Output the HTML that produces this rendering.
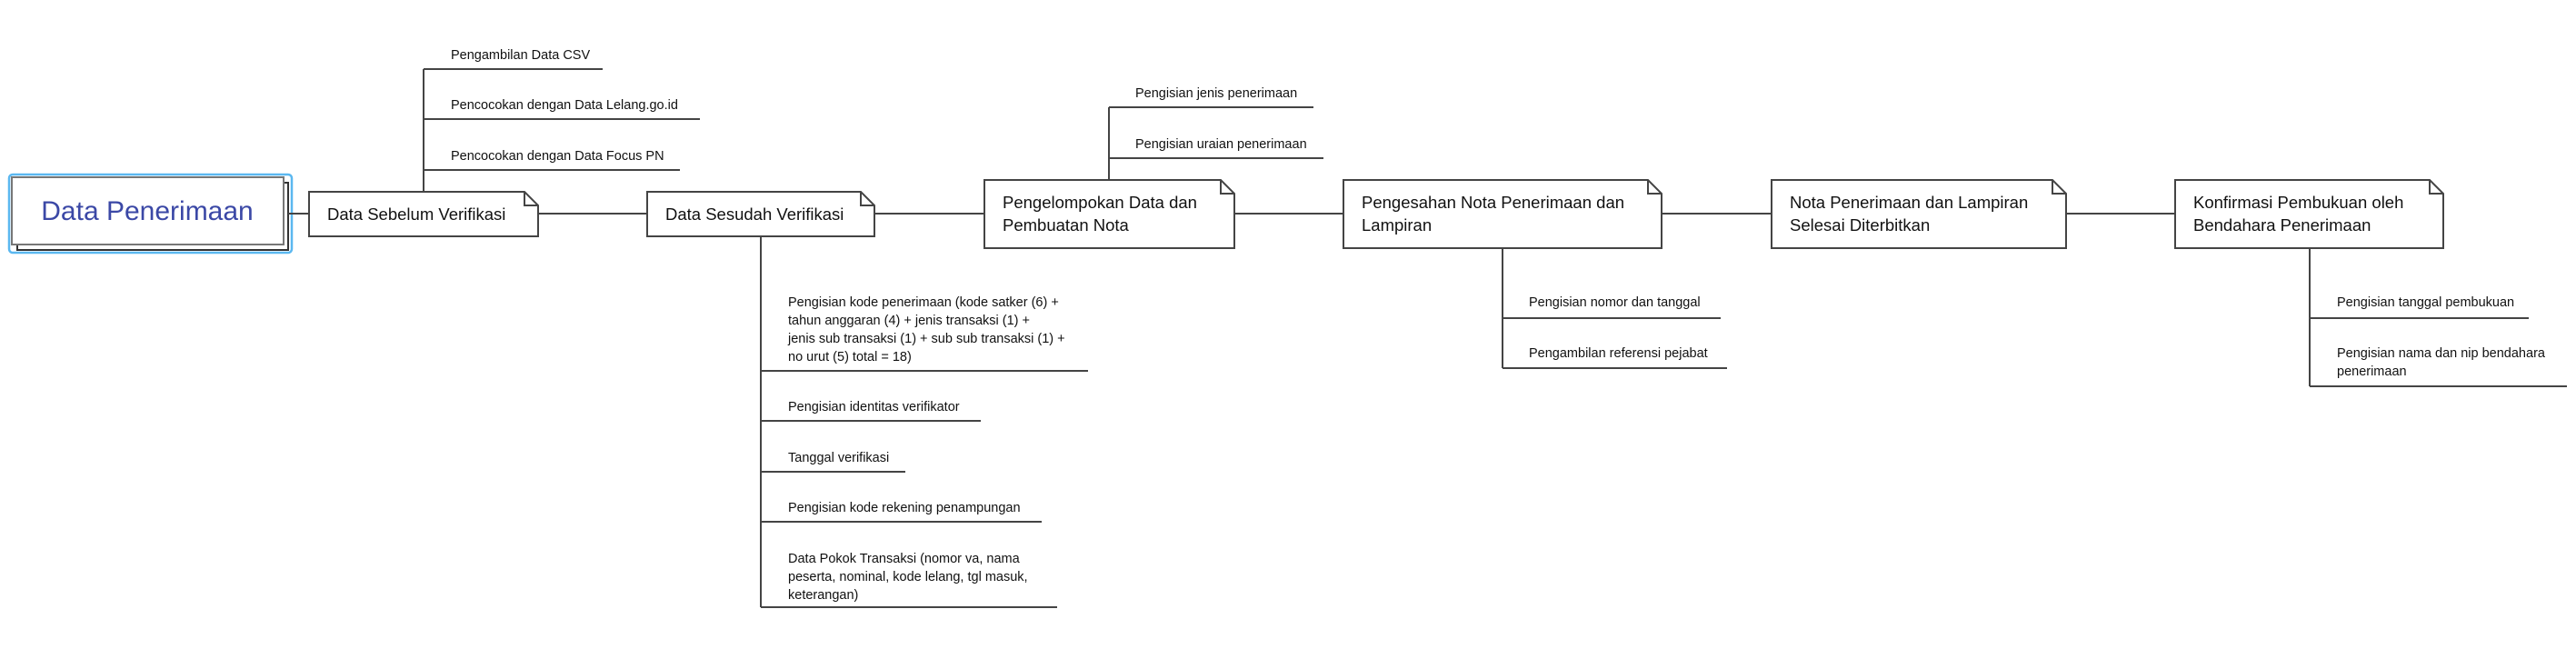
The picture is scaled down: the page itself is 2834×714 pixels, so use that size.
<!DOCTYPE html>
<html><head><meta charset="utf-8"><style>
html,body{margin:0;padding:0;background:#fff;}
svg{display:block;}
text{font-family:"Liberation Sans",sans-serif;fill:#111;}
.s{font-size:14.5px;}
.b{font-size:18.5px;}
</style></head><body>
<svg width="2834" height="714" viewBox="0 0 2834 714" xmlns="http://www.w3.org/2000/svg">
<g fill="none" stroke="#444" stroke-width="2">
<rect x="10" y="192" width="311" height="86" rx="4" stroke="#5bb8f0" stroke-width="2.5"/>
<rect x="19" y="201" width="298" height="74" stroke="#333"/>
<rect x="13" y="195" width="299" height="74" fill="#fff" stroke="#777"/>
<line x1="317" y1="235" x2="340" y2="235"/>
<line x1="592" y1="235" x2="712" y2="235"/>
<line x1="962" y1="235" x2="1083" y2="235"/>
<line x1="1358" y1="235" x2="1478" y2="235"/>
<line x1="1828" y1="235" x2="1949" y2="235"/>
<line x1="2273" y1="235" x2="2393" y2="235"/>
<path d="M340 211 H577 L592 226 V260 H340 Z M577 211 V226 H592" fill="#fff"/>
<path d="M712 211 H947 L962 226 V260 H712 Z M947 211 V226 H962" fill="#fff"/>
<path d="M1083 198 H1343 L1358 213 V273 H1083 Z M1343 198 V213 H1358" fill="#fff"/>
<path d="M1478 198 H1813 L1828 213 V273 H1478 Z M1813 198 V213 H1828" fill="#fff"/>
<path d="M1949 198 H2258 L2273 213 V273 H1949 Z M2258 198 V213 H2273" fill="#fff"/>
<path d="M2393 198 H2673 L2688 213 V273 H2393 Z M2673 198 V213 H2688" fill="#fff"/>
<line x1="466" y1="211" x2="466" y2="76"/>
<line x1="466" y1="76" x2="663" y2="76"/>
<line x1="466" y1="131" x2="770" y2="131"/>
<line x1="466" y1="187" x2="748" y2="187"/>
<line x1="837" y1="260" x2="837" y2="668"/>
<line x1="837" y1="408" x2="1197" y2="408"/>
<line x1="837" y1="463" x2="1079" y2="463"/>
<line x1="837" y1="519" x2="996" y2="519"/>
<line x1="837" y1="574" x2="1146" y2="574"/>
<line x1="837" y1="668" x2="1163" y2="668"/>
<line x1="1220" y1="198" x2="1220" y2="118"/>
<line x1="1220" y1="118" x2="1445" y2="118"/>
<line x1="1220" y1="174" x2="1456" y2="174"/>
<line x1="1653" y1="273" x2="1653" y2="405"/>
<line x1="1653" y1="350" x2="1893" y2="350"/>
<line x1="1653" y1="405" x2="1900" y2="405"/>
<line x1="2541" y1="273" x2="2541" y2="425"/>
<line x1="2541" y1="350" x2="2782" y2="350"/>
<line x1="2541" y1="425" x2="2824" y2="425"/>
</g>
<text x="162" y="242" text-anchor="middle" style="font-size:30px;fill:#3b48a6">Data Penerimaan</text>
<text class="b" x="360" y="242">Data Sebelum Verifikasi</text>
<text class="b" x="732" y="242">Data Sesudah Verifikasi</text>
<text class="b" x="1103" y="229">Pengelompokan Data dan</text>
<text class="b" x="1103" y="254">Pembuatan Nota</text>
<text class="b" x="1498" y="229">Pengesahan Nota Penerimaan dan</text>
<text class="b" x="1498" y="254">Lampiran</text>
<text class="b" x="1969" y="229">Nota Penerimaan dan Lampiran</text>
<text class="b" x="1969" y="254">Selesai Diterbitkan</text>
<text class="b" x="2413" y="229">Konfirmasi Pembukuan oleh</text>
<text class="b" x="2413" y="254">Bendahara Penerimaan</text>

<text class="s" x="496" y="65">Pengambilan Data CSV</text>
<text class="s" x="496" y="120">Pencocokan dengan Data Lelang.go.id</text>
<text class="s" x="496" y="176">Pencocokan dengan Data Focus PN</text>

<text class="s" x="867" y="337">Pengisian kode penerimaan (kode satker (6) +</text>
<text class="s" x="867" y="357">tahun anggaran  (4) + jenis transaksi (1) +</text>
<text class="s" x="867" y="377">jenis sub transaksi (1) + sub sub transaksi (1) +</text>
<text class="s" x="867" y="397">no urut (5) total = 18)</text>
<text class="s" x="867" y="452">Pengisian identitas verifikator</text>
<text class="s" x="867" y="508">Tanggal verifikasi</text>
<text class="s" x="867" y="563">Pengisian kode rekening penampungan</text>
<text class="s" x="867" y="619">Data Pokok Transaksi (nomor va, nama</text>
<text class="s" x="867" y="639">peserta, nominal, kode lelang, tgl masuk,</text>
<text class="s" x="867" y="659">keterangan)</text>

<text class="s" x="1249" y="107">Pengisian jenis penerimaan</text>
<text class="s" x="1249" y="163">Pengisian uraian penerimaan</text>

<text class="s" x="1682" y="337">Pengisian nomor dan tanggal</text>
<text class="s" x="1682" y="393">Pengambilan referensi pejabat</text>

<text class="s" x="2571" y="337">Pengisian tanggal pembukuan</text>
<text class="s" x="2571" y="393">Pengisian nama dan nip bendahara</text>
<text class="s" x="2571" y="413">penerimaan</text>
</svg>
</body></html>
